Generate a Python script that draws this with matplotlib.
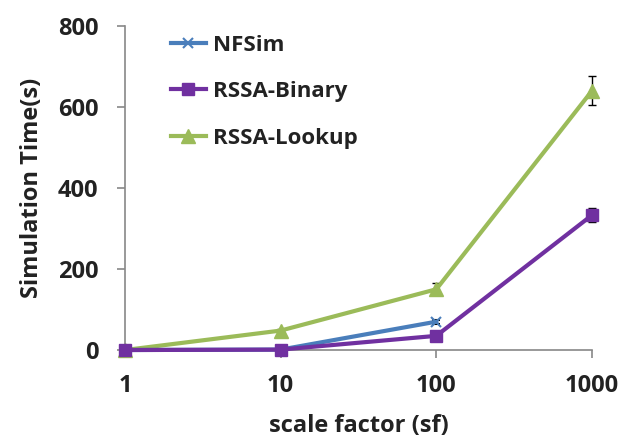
import matplotlib.pyplot as plt

sf = [1, 10, 100, 1000]
nfsim = [0, 1, 70]
nfsim_err = [0, 0, 5]
binary = [0, 1, 35, 333]
binary_err = [0, 1, 3, 17]
lookup = [0, 48, 150, 640]
lookup_err = [0, 3, 15, 36]
yticks = [0, 200, 400, 600, 800]

plt.rcParams['font.family'] = ['Open Sans', 'DejaVu Sans']
plt.rcParams['font.weight'] = 'bold'

fig = plt.figure(figsize=(6.24, 4.4), dpi=100)
ax = fig.add_axes([0.2003, 0.2045, 0.7484, 0.7365])

c1 = ax.errorbar(sf[:3], nfsim, yerr=nfsim_err, color='#4a7ebb', lw=3, marker='x',
                 ms=7, mew=1.5, ecolor='black', elinewidth=1, capsize=3, label='NFSim', zorder=3)
c2 = ax.errorbar(sf, binary, yerr=binary_err, color='#7030a0', lw=3, marker='s',
                 ms=9, ecolor='black', elinewidth=1, capsize=3, label='RSSA-Binary', zorder=4)
c3 = ax.errorbar(sf, lookup, yerr=lookup_err, color='#9bbb59', lw=3, marker='^',
                 ms=10, ecolor='black', elinewidth=1, capsize=3, label='RSSA-Lookup', zorder=2)

ax.set_xscale('log')
ax.set_xlim(1, 1000)
ax.set_ylim(0, 800)
ax.set_xticks(sf)
ax.set_xticklabels([str(v) for v in sf])
ax.minorticks_off()
ax.set_yticks(yticks)
ax.tick_params(axis='both', labelsize=17, color='#888888', length=6, width=1.2)
ax.tick_params(axis='y', pad=13)
ax.tick_params(axis='x', pad=11)
for lab in ax.get_xticklabels() + ax.get_yticklabels():
    lab.set_fontweight('bold')
    lab.set_color('#222222')

for s in ['top', 'right']:
    ax.spines[s].set_visible(False)
for s in ['left', 'bottom']:
    ax.spines[s].set_color('#888888')
    ax.spines[s].set_linewidth(1.2)
for art in ax.get_children():
    try:
        art.set_clip_on(False)
    except Exception:
        pass

ax.set_xlabel('scale factor (sf)', fontsize=17, fontweight='bold', color='#222222', labelpad=12)
ax.set_ylabel('Simulation Time(s)', fontsize=17, fontweight='bold', color='#222222', labelpad=10)

handles = [c1.lines[0], c2.lines[0], c3.lines[0]]
leg = ax.legend(handles, ['NFSim', 'RSSA-Binary', 'RSSA-Lookup'], loc='upper left',
                bbox_to_anchor=(0.055, 1.035), frameon=False, fontsize=16,
                handlelength=1.6, labelspacing=1.15, handletextpad=0.3)
for t in leg.get_texts():
    t.set_fontweight('bold')
    t.set_color('#222222')

fig.savefig('out.png', dpi=100)
